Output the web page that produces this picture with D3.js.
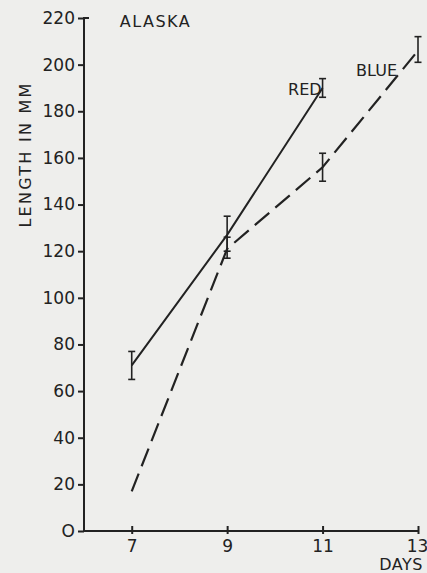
<!DOCTYPE html>
<html>
<head>
<meta charset="utf-8">
<script src="https://cdn.jsdelivr.net/npm/d3@7"></script>
<style>
  body { margin: 0; background: #eeeeec; }
  svg { display: block; }
  text { font-family: "DejaVu Sans", sans-serif; fill: #222; }
</style>
</head>
<body>
<svg id="chart" width="427" height="573"></svg>
<script>
// values
const days = [7, 9, 11, 13];
const redDays = [7, 9, 11];
const redLength = [71, 127, 190];
const redLow = [65, 120, 186];
const redHigh = [77, 135, 194];
const blueDays = [7, 9, 11, 13];
const blueLength = [17, 121, 156, 206];
const blueLow = [null, 117, 150, 201];
const blueHigh = [null, 126, 162, 212];
const yTicks = [0, 20, 40, 60, 80, 100, 120, 140, 160, 180, 200, 220];

const ink = "#222";
const margin = { top: 18, right: 9, bottom: 42, left: 84 };
const svg = d3.select("#chart");
const width = +svg.attr("width") - margin.left - margin.right;
const height = +svg.attr("height") - margin.top - margin.bottom;

const x = d3.scaleLinear().domain([6, 13]).range([0, width]);
const y = d3.scaleLinear().domain([0, 220]).range([height, 0]);

const g = svg.append("g").attr("transform", `translate(${margin.left},${margin.top})`);

// axes
const yAxis = g.append("g")
  .call(d3.axisLeft(y).tickValues(yTicks).tickSize(6).tickPadding(3).tickFormat(d => d === 0 ? "O" : d));
yAxis.select(".domain").attr("d", `M0,${height}V0h5`);

const xAxis = g.append("g")
  .attr("transform", `translate(0,${height})`)
  .call(d3.axisBottom(x).tickValues(days).tickSize(3).tickPadding(6).tickFormat(d3.format("d")));
xAxis.select(".domain").attr("d", `M0,0H${width}`);
xAxis.selectAll(".tick line").attr("y1", -5);
xAxis.selectAll(".tick text").filter(d => d === 13).attr("dx", "-1");

g.selectAll(".domain, .tick line").attr("stroke", ink).attr("stroke-width", 2);
g.selectAll(".tick text").attr("fill", ink).style("font-size", "17px");

// series
const red = redDays.map((d, i) => ({ x: d, y: redLength[i], lo: redLow[i], hi: redHigh[i] }));
const blue = blueDays.map((d, i) => ({ x: d, y: blueLength[i], lo: blueLow[i], hi: blueHigh[i] }));

const line = d3.line().x(d => x(d.x)).y(d => y(d.y));

g.append("path").datum(red)
  .attr("fill", "none").attr("stroke", ink).attr("stroke-width", 2)
  .attr("d", line);

g.append("path").datum(blue)
  .attr("fill", "none").attr("stroke", ink).attr("stroke-width", 2.2)
  .attr("stroke-dasharray", "19,8")
  .attr("d", line);

// error bars
const bars = red.concat(blue).filter(d => d.lo !== null);
const eb = g.append("g").attr("stroke", ink).attr("stroke-width", 1.6);
bars.forEach(d => {
  eb.append("line").attr("x1", x(d.x)).attr("x2", x(d.x)).attr("y1", y(d.lo)).attr("y2", y(d.hi));
  eb.append("line").attr("x1", x(d.x) - 3.5).attr("x2", x(d.x) + 3.5).attr("y1", y(d.lo)).attr("y2", y(d.lo));
  eb.append("line").attr("x1", x(d.x) - 3.5).attr("x2", x(d.x) + 3.5).attr("y1", y(d.hi)).attr("y2", y(d.hi));
});

// labels
g.append("text").attr("x", x(6.75)).attr("y", y(216))
  .style("font-size", "16px").style("letter-spacing", "1.5px").text("ALASKA");
g.append("text").attr("x", x(11) - 1).attr("y", y(187))
  .attr("text-anchor", "end").style("font-size", "16px").text("RED");
g.append("text").attr("x", x(12.56)).attr("y", y(195))
  .attr("text-anchor", "end").style("font-size", "16px").text("BLUE");
g.append("text").attr("x", width + 5).attr("y", height + 39)
  .attr("text-anchor", "end").style("font-size", "16px").style("letter-spacing", "0.5px").text("DAYS");
svg.append("text")
  .attr("transform", `translate(31,${y(161) + margin.top}) rotate(-90)`)
  .attr("text-anchor", "middle").style("font-size", "16px")
  .attr("textLength", 144).attr("lengthAdjust", "spacing")
  .text("LENGTH IN MM");
</script>
</body>
</html>
